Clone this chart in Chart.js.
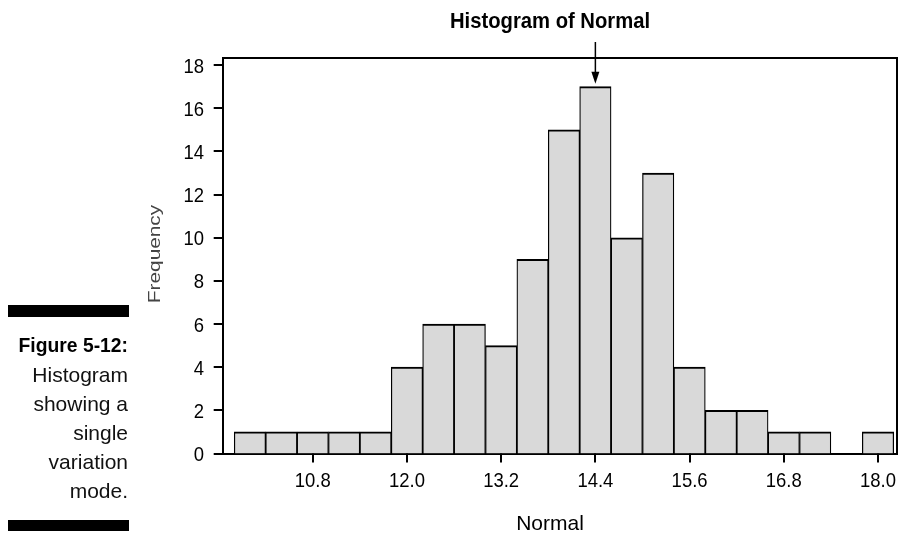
<!DOCTYPE html>
<html>
<head>
<meta charset="utf-8">
<script src="https://cdn.jsdelivr.net/npm/chart.js@4/dist/chart.umd.min.js"></script>
<style>
  html, body { margin: 0; padding: 0; background: #fff; }
  #wrap { position: relative; width: 906px; height: 535px; }
</style>
</head>
<body>
<div id="wrap"><canvas id="hist"></canvas></div>
<script>
// bin midpoints (width 0.4) and counts
const binCenters = [10.0, 10.4, 10.8, 11.2, 11.6, 12.0, 12.4, 12.8, 13.2, 13.6, 14.0,
                    14.4, 14.8, 15.2, 15.6, 16.0, 16.4, 16.8, 17.2, 17.6, 18.0]
const counts = [1, 1, 1, 1, 1, 4, 6, 6, 5, 9, 15, 17, 10, 13, 4, 2, 2, 1, 1, 0, 1]
const xTicks = [10.8, 12.0, 13.2, 14.4, 15.6, 16.8, 18.0]
const yTicks = [0, 2, 4, 6, 8, 10, 12, 14, 16, 18]
const modeValue = 14.4

const title = "Histogram of Normal"
const xLabel = "Normal"
const yLabel = "Frequency"
const captionHead = "Figure 5-12:"
const captionLines = ["Histogram", "showing a", "single", "variation", "mode."]

const FONT = '"Liberation Sans", Arial, sans-serif'
const TICK = 9

// text squeezed sideways, to get near the condensed face of the original
function narrowText(ctx, text, x, y, sx, align) {
  ctx.save()
  ctx.translate(x, y)
  ctx.scale(sx, 1)
  ctx.textAlign = align
  ctx.fillText(text, 0, 0)
  ctx.restore()
}

const extras = {
  id: "extras",
  afterDraw(chart) {
    const { ctx, chartArea: a, scales: { x, y } } = chart
    ctx.save()
    ctx.strokeStyle = "#000"
    ctx.lineWidth = 2
    // frame top + right
    ctx.beginPath()
    ctx.moveTo(a.left, a.top)
    ctx.lineTo(a.right, a.top)
    ctx.lineTo(a.right, a.bottom)
    ctx.stroke()

    // tick marks, outside the frame
    ctx.fillStyle = "#000"
    x.ticks.forEach(t => {
      const px = Math.round(x.getPixelForValue(t.value))
      ctx.fillRect(px - 1, a.bottom, 2, TICK)
    })
    y.ticks.forEach(t => {
      const py = Math.round(y.getPixelForValue(t.value))
      ctx.fillRect(a.left - TICK, py - 1, TICK, 2)
    })

    // tick labels
    ctx.textBaseline = "alphabetic"
    ctx.font = "21px " + FONT
    x.ticks.forEach(t => narrowText(ctx, t.value.toFixed(1), x.getPixelForValue(t.value), 487, 0.88, "center"))
    y.ticks.forEach(t => narrowText(ctx, String(t.value), 204, y.getPixelForValue(t.value) + 7.5, 0.88, "right"))

    // arrow to the mode
    const ax = x.getPixelForValue(modeValue)
    const tip = y.getPixelForValue(counts[binCenters.indexOf(modeValue)]) - 3
    ctx.lineWidth = 1.5
    ctx.beginPath()
    ctx.moveTo(ax, 42)
    ctx.lineTo(ax, tip - 8)
    ctx.stroke()
    ctx.beginPath()
    ctx.moveTo(ax - 4, tip - 12)
    ctx.lineTo(ax + 4, tip - 12)
    ctx.lineTo(ax, tip)
    ctx.closePath()
    ctx.fill()

    // titles
    ctx.font = "bold 22px " + FONT
    narrowText(ctx, title, 550, 28, 0.92, "center")
    ctx.font = "21px " + FONT
    narrowText(ctx, xLabel, 550, 530, 1, "center")

    ctx.save()
    ctx.translate(160, 254)
    ctx.rotate(-Math.PI / 2)
    ctx.fillStyle = "#444"
    ctx.font = "16px " + FONT
    narrowText(ctx, yLabel, 0, 0, 1.3, "center")
    ctx.restore()

    // figure caption at left
    ctx.fillStyle = "#000"
    ctx.fillRect(8, 305, 121, 12)
    ctx.fillRect(8, 520, 121, 11)
    ctx.font = "bold 21px " + FONT
    narrowText(ctx, captionHead, 128, 352, 0.92, "right")
    ctx.font = "21px " + FONT
    ctx.fillStyle = "#111"
    captionLines.forEach((t, i) => narrowText(ctx, t, 128, 382 + i * 29, 1, "right"))
    ctx.restore()
  }
}

new Chart(document.getElementById("hist"), {
  type: "bar",
  data: {
    datasets: [{
      data: binCenters.map((c, i) => ({ x: c, y: counts[i] })),
      backgroundColor: "#d9d9d9",
      borderColor: "#000",
      borderWidth: { top: 2, left: 1.25, right: 1.25, bottom: 0 },
      borderSkipped: false,
      barPercentage: 1,
      categoryPercentage: 1
    }]
  },
  options: {
    responsive: true,
    maintainAspectRatio: false,
    animation: false,
    layout: { padding: { left: 0, top: 58, right: 9, bottom: 0 } },
    plugins: { legend: { display: false }, tooltip: { enabled: false } },
    scales: {
      x: {
        type: "linear",
        min: 9.653,
        max: 18.242,
        offset: false,
        afterFit: s => { s.height = 81.5 },
        afterBuildTicks: s => { s.ticks = xTicks.map(v => ({ value: v })) },
        grid: { display: false },
        border: { color: "#000", width: 2 },
        ticks: { display: false }
      },
      y: {
        min: 0,
        max: 18.33,
        afterFit: s => { s.width = 222.7 },
        afterBuildTicks: s => { s.ticks = yTicks.map(v => ({ value: v })) },
        grid: { display: false },
        border: { color: "#000", width: 2 },
        ticks: { display: false }
      }
    }
  },
  plugins: [extras]
})
</script>
</body>
</html>
